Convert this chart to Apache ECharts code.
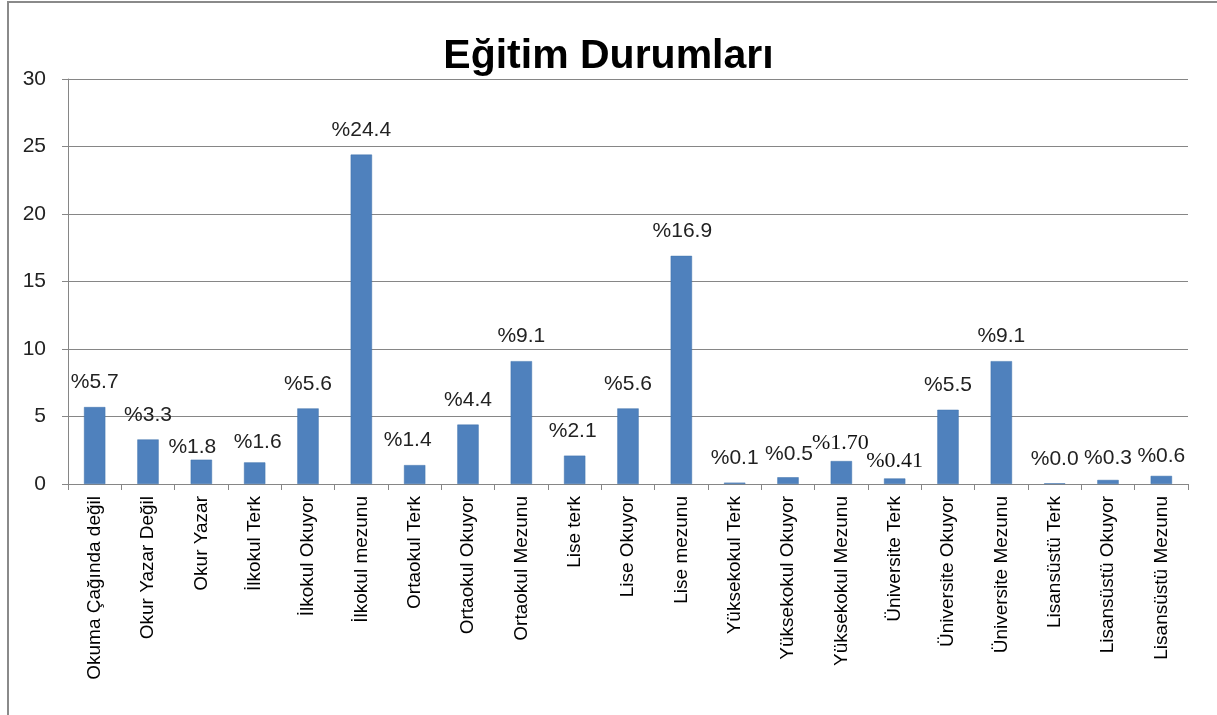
<!DOCTYPE html>
<html>
<head>
<meta charset="utf-8">
<script src="https://cdn.jsdelivr.net/npm/echarts@6/dist/echarts.min.js"></script>
<style>
html,body{margin:0;padding:0;background:#fff;}
#chart{width:1217px;height:715px;}
</style>
</head>
<body>
<div id="chart"></div>
<script>
const categories = [
  "Okuma Çağında değil", "Okur Yazar Değil", "Okur Yazar", "İlkokul Terk", "İlkokul Okuyor",
  "İlkokul mezunu", "Ortaokul Terk", "Ortaokul Okuyor", "Ortaokul Mezunu", "Lise terk",
  "Lise Okuyor", "Lise mezunu", "Yüksekokul Terk", "Yüksekokul Okuyor", "Yüksekokul Mezunu",
  "Üniversite Terk", "Üniversite Okuyor", "Üniversite Mezunu", "Lisansüstü Terk",
  "Lisansüstü Okuyor", "Lisansüstü Mezunu"
];
const values = [5.7, 3.3, 1.8, 1.6, 5.6, 24.4, 1.4, 4.4, 9.1, 2.1, 5.6, 16.9, 0.1, 0.5, 1.70, 0.41, 5.5, 9.1, 0.05, 0.3, 0.6];
const valueLabels = ["%5.7", "%3.3", "%1.8", "%1.6", "%5.6", "%24.4", "%1.4", "%4.4", "%9.1", "%2.1",
  "%5.6", "%16.9", "%0.1", "%0.5", "%1.70", "%0.41", "%5.5", "%9.1", "%0.0", "%0.3", "%0.6"];
const yTicks = [0, 5, 10, 15, 20, 25, 30];

// label style tweaks (position offsets [dx, dy] and serif flag), kept separate from data
const labelShift = [[0,0],[0,0],[-9,12],[3,4],[0,0],[0,0],[-7,0],[0,0],[0,0],[-2,0],
  [0,0],[1,0],[0,0],[1,1],[-1,7],[0,8],[0,0],[0,0],[0,0],[0,3],[0,5]];
const serifLabel = [14, 15];

const seriesData = values.map((v, i) => {
  const item = {
    value: v,
    label: { offset: labelShift[i] }
  };
  if (serifLabel.includes(i)) {
    item.label.fontFamily = 'Liberation Serif';
    item.label.fontSize = 22;
    item.label.color = '#111';
  }
  return item;
});

const chart = echarts.init(document.getElementById('chart'), null, {renderer: 'canvas'});
chart.setOption({
  backgroundColor: '#ffffff',
  animation: false,
  title: {
    text: 'Eğitim Durumları',
    left: 'center',
    top: 31,
    textStyle: {
      fontFamily: 'Liberation Sans',
      fontWeight: 'bold',
      fontSize: 41,
      color: '#000'
    }
  },
  graphic: [{
    type: 'rect',
    shape: { x: 8, y: 2, width: 1400, height: 900 },
    style: { fill: 'none', stroke: '#8a8a8a', lineWidth: 2 },
    silent: true
  }],
  grid: { left: 68, right: 29, top: 79, bottom: 231, containLabel: false },
  xAxis: {
    type: 'category',
    data: categories,
    axisLine: { show: true, lineStyle: { color: '#868686', width: 1 } },
    axisTick: { show: true, length: 6, lineStyle: { color: '#868686' } },
    axisLabel: {
      rotate: 90,
      interval: 0,
      margin: 12,
      fontFamily: 'Liberation Sans',
      fontSize: 19,
      color: '#000'
    }
  },
  yAxis: {
    type: 'value',
    min: 0,
    max: 30,
    interval: 5,
    axisLine: { show: true, lineStyle: { color: '#868686', width: 1 } },
    axisTick: { show: true, length: 6, lineStyle: { color: '#868686' } },
    splitLine: { show: true, lineStyle: { color: '#868686', width: 1 } },
    axisLabel: {
      margin: 22,
      fontFamily: 'Liberation Sans',
      fontSize: 21,
      color: '#222',
      formatter: v => yTicks.includes(v) ? String(v) : ''
    }
  },
  series: [{
    type: 'bar',
    data: seriesData,
    barWidth: '40%',
    itemStyle: { color: '#4F81BD', borderColor: '#3f72ad', borderWidth: 0.5 },
    label: {
      show: true,
      position: 'top',
      distance: 14,
      fontFamily: 'Liberation Sans',
      fontSize: 21,
      color: '#222',
      formatter: p => valueLabels[p.dataIndex]
    }
  }]
});
</script>
</body>
</html>
